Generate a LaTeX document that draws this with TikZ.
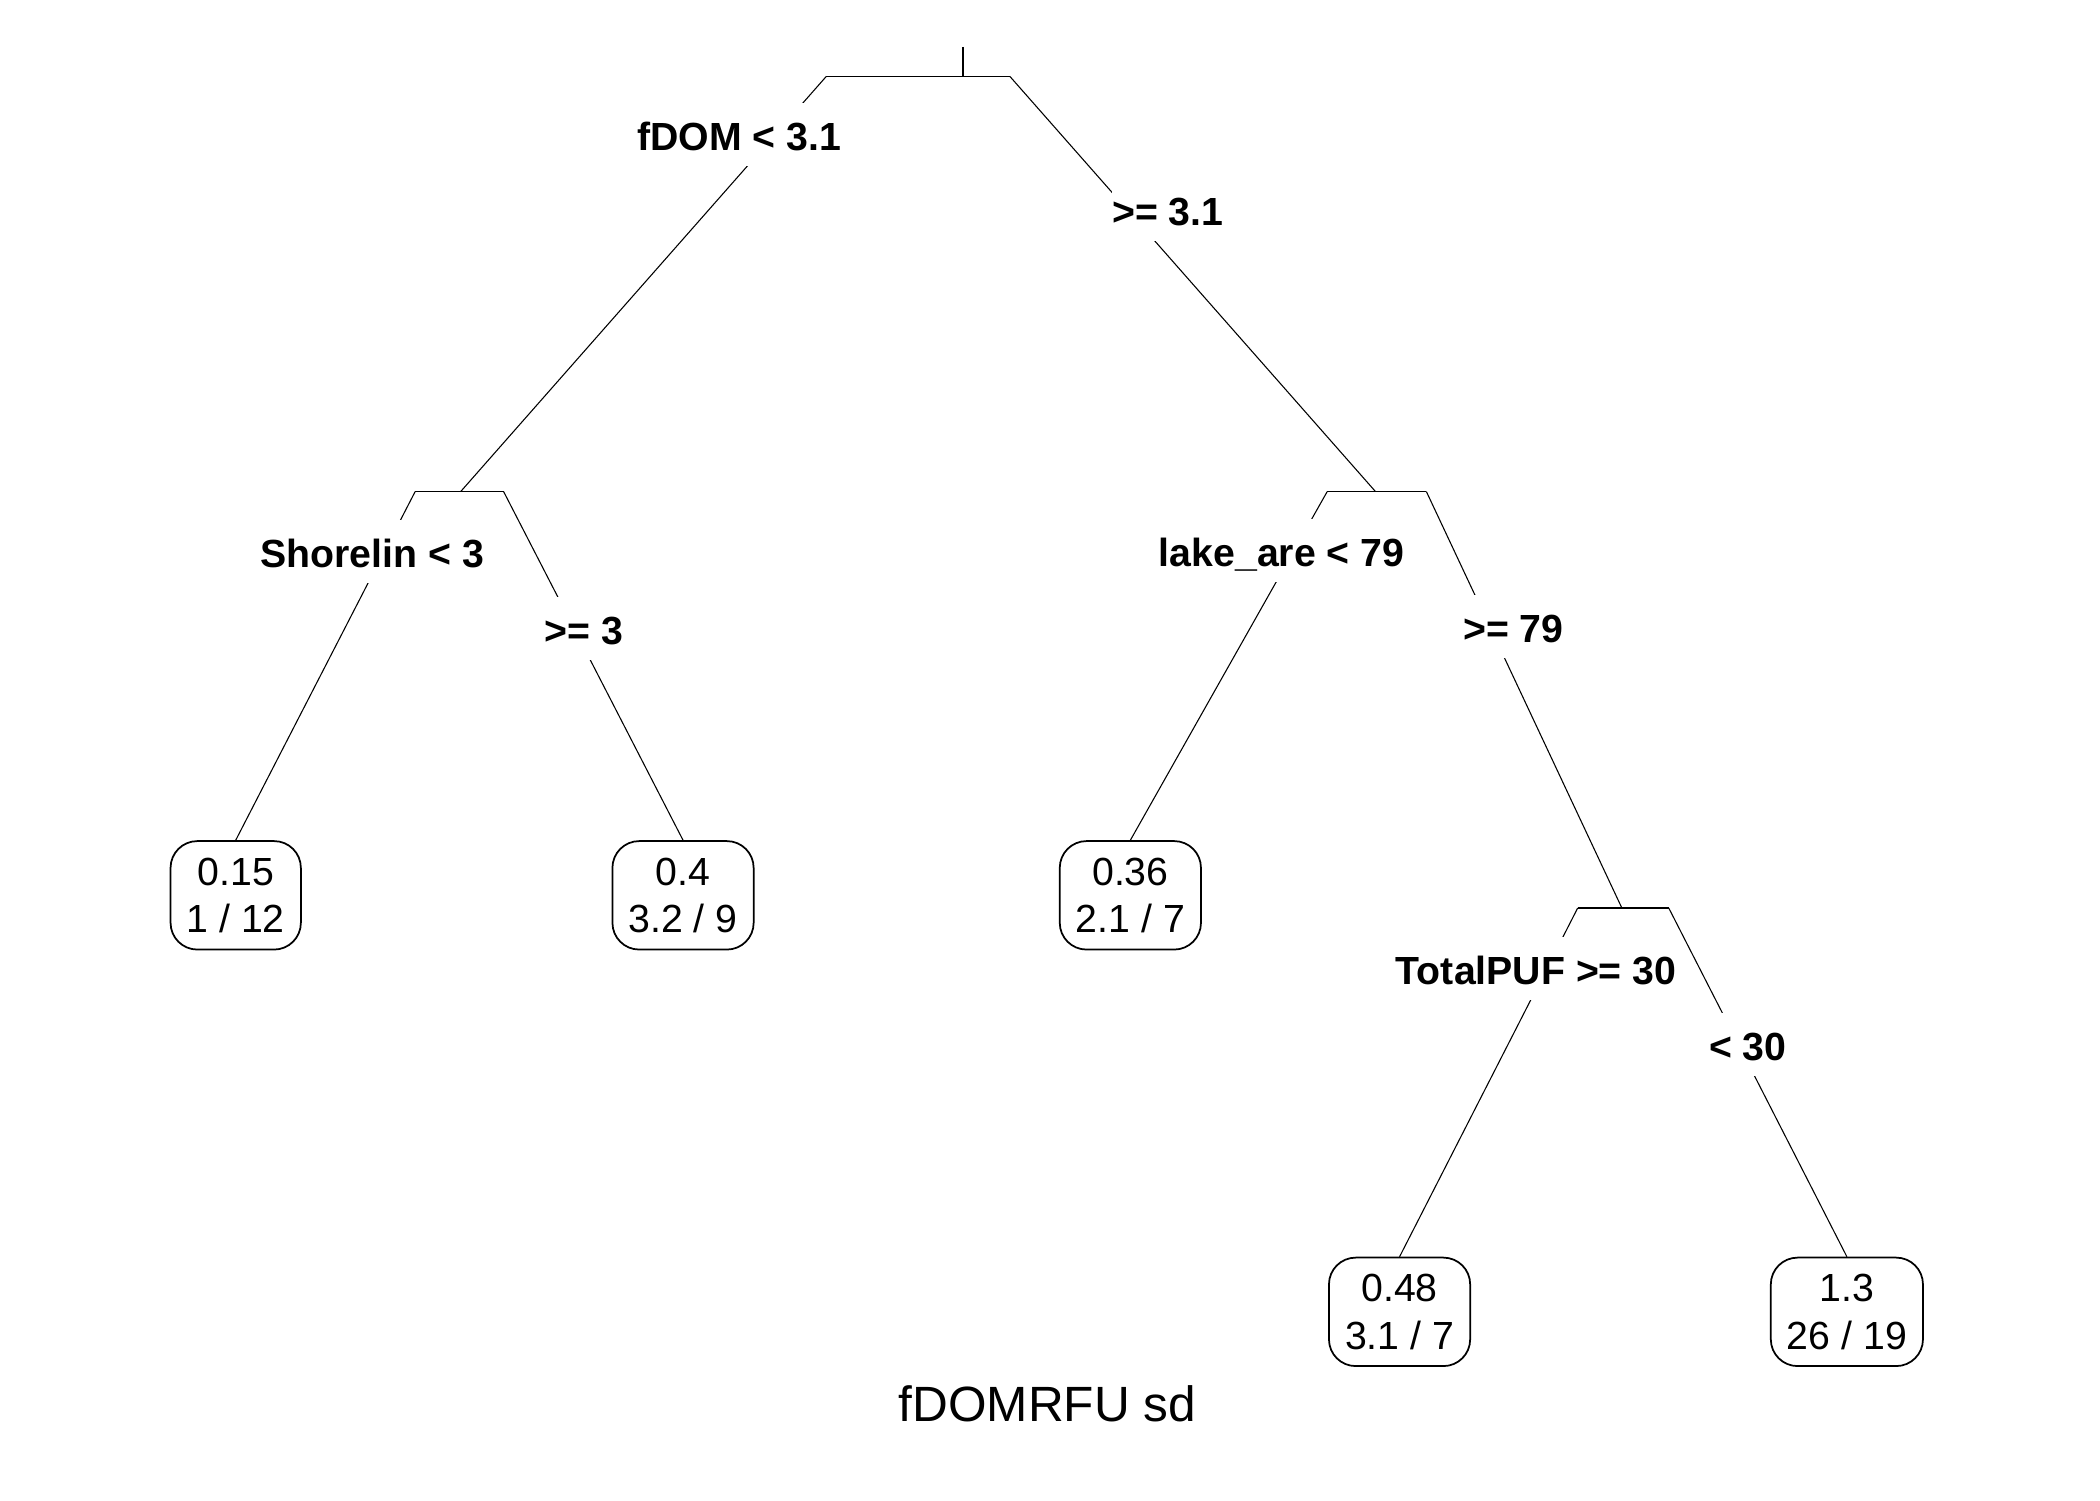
\documentclass[tikz,border=0pt]{standalone}
\usepackage{fontspec}
\setmainfont{Liberation Sans}
\newcommand\leaffont{\fontsize{29.3}{35.5}\selectfont}
\newcommand\labfont{\fontsize{29.3}{35}\selectfont\bfseries}
\newcommand\ttlfont{\fontsize{37}{44}\selectfont}
\tikzset{
  bar/.style={line width=1.2pt},
  branch/.style={line width=0.8pt},
  leaf/.style={draw, rounded corners=20pt, line width=1.3pt, align=center,
    inner xsep=12pt, inner ysep=0pt, minimum height=81pt, font=\leaffont},
  lab/.style={fill=white, inner xsep=0.5pt, inner ysep=11.5pt, text height=24pt,
    text depth=0pt, font=\labfont},
  ttl/.style={font=\ttlfont, inner sep=0pt}
}
\begin{document}
\begin{tikzpicture}[x=1pt,y=-1pt]
\useasboundingbox (0,0) rectangle (1568,1120);
% root
\coordinate (rtop) at (719,35);
\coordinate (rmid) at (719,57);
\coordinate (rL) at (617,57);
\coordinate (rR) at (754,57);
% Shorelin node
\coordinate (sT) at (344,367);
\coordinate (sL) at (310,367);
\coordinate (sR) at (376,367);
% lake_are node
\coordinate (kT) at (1027,367);
\coordinate (kL) at (991,367);
\coordinate (kR) at (1065,367);
% TotalPUF node
\coordinate (tT) at (1211,678);
\coordinate (tL) at (1178,678);
\coordinate (tR) at (1246,678);
% leaves
\node[leaf] (l1) at (176,668.5) {0.15\\1 / 12};
\node[leaf] (l2) at (510,668.5) {0.4\\3.2 / 9};
\node[leaf] (l3) at (844,668.5) {0.36\\2.1 / 7};
\node[leaf] (l4) at (1045,979.5) {0.48\\3.1 / 7};
\node[leaf] (l5) at (1379,979.5) {1.3\\26 / 19};
% bars
\draw[bar] (rtop) -- (rmid);
\draw[bar] (rL) -- (rR);
\draw[bar] (sL) -- (sR);
\draw[bar] (kL) -- (kR);
\draw[bar] (tL) -- (tR);
% branches
\draw[branch] (rL) -- (sT);
\draw[branch] (rR) -- (kT);
\draw[branch] (sL) -- (l1.north);
\draw[branch] (sR) -- (l2.north);
\draw[branch] (kL) -- (l3.north);
\draw[branch] (kR) -- (tT);
\draw[branch] (tL) -- (l4.north);
\draw[branch] (tR) -- (l5.north);
% split labels
\node[lab] (a1) at (552,100.5) {fDOM < 3.1};
\node[lab] (a2) at (872,156.5) {>= 3.1};
\node[lab] (b1) at (278,412) {Shorelin < 3};
\node[lab] (b2) at (436,469) {>= 3};
\node[lab] (c1) at (957,411) {lake\_are < 79};
\node[lab] (c2) at (1130,468) {>= 79};
\node[lab] (d1) at (1147,723) {TotalPUF >= 30};
\node[lab] (d2) at (1305,780) {< 30};
% title
\node[ttl] (title) at (782,1048) {fDOMRFU sd};
\end{tikzpicture}
\end{document}
